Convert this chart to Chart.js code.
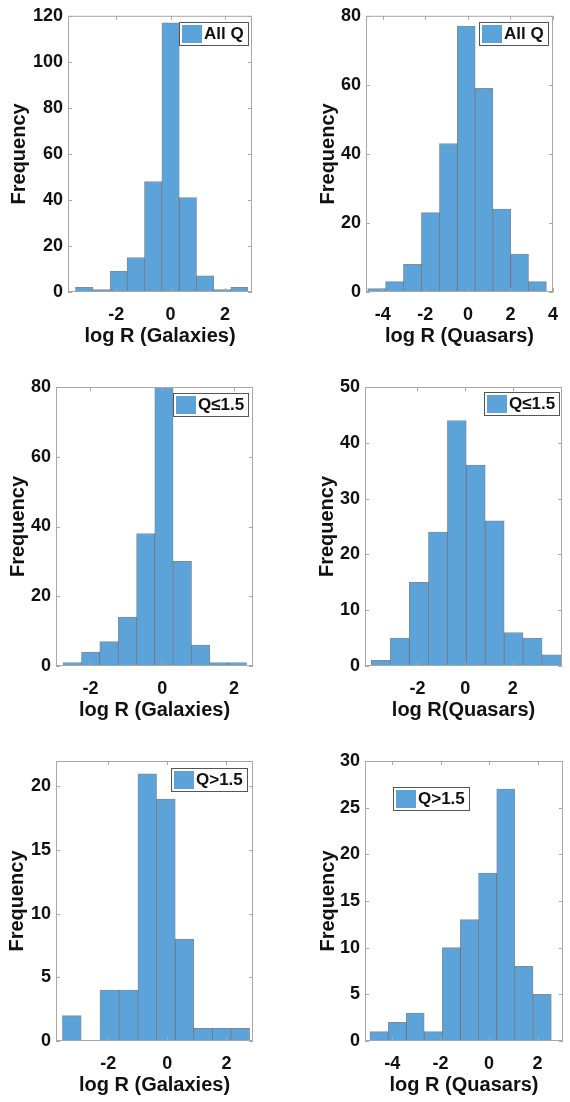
<!DOCTYPE html>
<html>
<head>
<meta charset="utf-8">
<script src="https://cdn.jsdelivr.net/npm/chart.js@4.4.0/dist/chart.umd.min.js"></script>
<style>
  body { margin: 0; background: #fff; }
  #page { position: relative; width: 570px; height: 1102px; }
  #page canvas { position: absolute; }
</style>
</head>
<body>
<div id="page"></div>
<script>
// histogram bin edges + counts
const galAllEdges = [-3.50, -2.85, -2.22, -1.60, -0.96, -0.32, 0.32, 0.95, 1.59, 2.21, 2.84];
const galAllCounts = [2, 1, 9, 15, 48, 117, 41, 7, 1, 2];

const qsoAllEdges = [-4.71, -3.87, -3.03, -2.19, -1.33, -0.50, 0.34, 1.18, 2.01, 2.85, 3.69];
const qsoAllCounts = [1, 3, 8, 23, 43, 77, 59, 24, 11, 3];

const galLowEdges = [-2.76, -2.25, -1.74, -1.23, -0.71, -0.21, 0.30, 0.82, 1.33, 1.84, 2.35];
const galLowCounts = [1, 4, 7, 14, 38, 80, 30, 6, 1, 1];

const qsoLowEdges = [-3.94, -3.15, -2.34, -1.54, -0.74, 0.04, 0.84, 1.64, 2.42, 3.22, 4.03];
const qsoLowCounts = [1, 5, 15, 24, 44, 36, 26, 6, 5, 2];

const galHighEdges = [-3.56, -2.91, -2.29, -1.63, -0.99, -0.37, 0.27, 0.90, 1.52, 2.16, 2.78];
const galHighCounts = [2, 0, 4, 4, 21, 19, 8, 1, 1, 1];

const qsoHighEdges = [-4.92, -4.16, -3.41, -2.68, -1.94, -1.18, -0.44, 0.32, 1.06, 1.81, 2.57];
const qsoHighCounts = [1, 2, 3, 1, 10, 13, 18, 27, 8, 5];

// tick labels
const xTicksNarrow = [-2, 0, 2];
const xTicksWide = [-4, -2, 0, 2, 4];
const xTicksQsoHigh = [-4, -2, 0, 2];
const yTicksGalAll = [0, 20, 40, 60, 80, 100, 120];
const yTicks80 = [0, 20, 40, 60, 80];
const yTicks50 = [0, 10, 20, 30, 40, 50];
const yTicks20 = [0, 5, 10, 15, 20];
const yTicks30 = [0, 5, 10, 15, 20, 25, 30];

const FONT = '"Liberation Sans", Arial, Helvetica, sans-serif';
const BAR = '#5ca3d9';
const BOX = '#a8a8a8';
const XAXIS_H = 60;

Chart.defaults.font.family = FONT;
Chart.defaults.color = '#111';

const rows = [{ y: 0, h: 352 }, { y: 352, h: 375 }, { y: 727, h: 375 }];

// layout per panel: chart area in page pixels, axis limits, legend placement
const panels = [
  { col: 0, row: 0, edges: galAllEdges, counts: galAllCounts, label: 'All Q', xTitle: 'log R (Galaxies)',
    xMin: -3.77, xMax: 2.99, yMax: 120, xTicks: xTicksNarrow, yTicks: yTicksGalAll,
    area: { l: 68, r: 252, t: 11, b: 292 }, yTitleGap: 49, legend: { align: 'right', dx: 4, dy: 6 } },
  { col: 1, row: 0, edges: qsoAllEdges, counts: qsoAllCounts, label: 'All Q', xTitle: 'log R (Quasars)',
    xMin: -4.79, xMax: 4, yMax: 80, xTicks: xTicksWide, yTicks: yTicks80,
    area: { l: 366, r: 564, t: 11, b: 292 }, yTitleGap: 38, legend: { align: 'right', dx: 5, dy: 6 } },
  { col: 0, row: 1, edges: galLowEdges, counts: galLowCounts, label: 'Q\u22641.5', xTitle: 'log R (Galaxies)',
    xMin: -2.96, xMax: 2.53, yMax: 80, xTicks: xTicksNarrow, yTicks: yTicks80,
    area: { l: 56, r: 253, t: 387, b: 666 }, yTitleGap: 38, legend: { align: 'right', dx: 5, dy: 6 } },
  { col: 1, row: 1, edges: qsoLowEdges, counts: qsoLowCounts, label: 'Q\u22641.5', xTitle: 'log R(Quasars)',
    xMin: -4.2, xMax: 4.06, yMax: 50, xTicks: xTicksNarrow, yTicks: yTicks50,
    area: { l: 365, r: 562, t: 387, b: 666 }, yTitleGap: 38, legend: { align: 'right', dx: 3, dy: 5 } },
  { col: 0, row: 2, edges: galHighEdges, counts: galHighCounts, label: 'Q>1.5', xTitle: 'log R (Galaxies)',
    xMin: -3.77, xMax: 2.90, yMax: 22, xTicks: xTicksNarrow, yTicks: yTicks20,
    area: { l: 56, r: 253, t: 761, b: 1041 }, yTitleGap: 39, legend: { align: 'right', dx: 6, dy: 7 } },
  { col: 1, row: 2, edges: qsoHighEdges, counts: qsoHighCounts, label: 'Q>1.5', xTitle: 'log R (Quasars)',
    xMin: -5.12, xMax: 3.05, yMax: 30, xTicks: xTicksQsoHigh, yTicks: yTicks30,
    area: { l: 365, r: 563, t: 761, b: 1041 }, yTitleGap: 37, legend: { align: 'left', dx: 28, dy: 26 } }
];

// axes box with inward ticks on all four sides (matlab style)
const axesBox = {
  id: 'axesBox',
  afterDatasetsDraw(chart) {
    const { ctx, chartArea: a, scales: { x, y } } = chart;
    ctx.save();
    ctx.strokeStyle = BOX;
    ctx.lineWidth = 1;
    ctx.strokeRect(a.left + 0.5, a.top + 0.5, a.right - a.left - 1, a.bottom - a.top - 1);
    ctx.beginPath();
    x.ticks.forEach(t => {
      const px = Math.round(x.getPixelForValue(t.value)) + 0.5;
      ctx.moveTo(px, a.bottom); ctx.lineTo(px, a.bottom - 4);
      ctx.moveTo(px, a.top); ctx.lineTo(px, a.top + 4);
    });
    y.ticks.forEach(t => {
      const py = Math.round(y.getPixelForValue(t.value)) + 0.5;
      ctx.moveTo(a.left, py); ctx.lineTo(a.left + 4, py);
      ctx.moveTo(a.right, py); ctx.lineTo(a.right - 4, py);
    });
    ctx.stroke();
    ctx.restore();
  }
};

// boxed legend inside the axes
const boxLegend = {
  id: 'boxLegend',
  afterDraw(chart, args, opts) {
    const { ctx, chartArea: a } = chart;
    const ds = chart.data.datasets[0];
    ctx.save();
    ctx.font = 'bold 17px ' + FONT;
    const tw = ctx.measureText(ds.label).width;
    const w = Math.round(3 + 20 + 2 + tw + 4), h = 23;
    const x = Math.round(opts.align === 'right' ? a.right - opts.dx - w : a.left + opts.dx);
    const y = Math.round(a.top + opts.dy);
    ctx.fillStyle = '#fff';
    ctx.fillRect(x, y, w, h);
    ctx.strokeStyle = '#555';
    ctx.lineWidth = 1;
    ctx.strokeRect(x + 0.5, y + 0.5, w, h);
    ctx.fillStyle = ds.backgroundColor;
    ctx.fillRect(x + 3, y + 3, 20, h - 5);
    ctx.fillStyle = '#111';
    ctx.textBaseline = 'middle';
    ctx.fillText(ds.label, x + 25, y + h / 2 + 1);
    ctx.restore();
  }
};

const page = document.getElementById('page');

panels.forEach(p => {
  const row = rows[p.row];
  const colX = p.col * 285;
  const cv = document.createElement('canvas');
  cv.width = 285;
  cv.height = row.h;
  cv.style.left = colX + 'px';
  cv.style.top = row.y + 'px';
  page.appendChild(cv);

  const centers = p.counts.map((c, i) => (p.edges[i] + p.edges[i + 1]) / 2);
  const yAxisW = p.area.l - colX;
  const yTitlePad = yAxisW - p.yTitleGap - 12;

  new Chart(cv, {
    type: 'bar',
    data: {
      datasets: [{
        label: p.label,
        data: centers.map((c, i) => ({ x: c, y: p.counts[i] })),
        backgroundColor: BAR,
        borderColor: 'rgba(35,65,95,0.6)',
        borderWidth: ctx => (ctx.raw && ctx.raw.y > 0 ? 1 : 0),
        barThickness: 'flex',
        barPercentage: 1,
        categoryPercentage: 1
      }]
    },
    options: {
      responsive: false,
      animation: false,
      layout: {
        padding: {
          left: 0,
          top: p.area.t - row.y,
          right: colX + 285 - p.area.r,
          bottom: row.y + row.h - p.area.b - XAXIS_H
        }
      },
      plugins: {
        legend: { display: false },
        tooltip: { enabled: false },
        boxLegend: p.legend
      },
      scales: {
        x: {
          type: 'linear',
          offset: false,
          min: p.xMin,
          max: p.xMax,
          grid: { display: false, drawTicks: false, offset: false },
          border: { display: false },
          afterBuildTicks: s => { s.ticks = p.xTicks.map(v => ({ value: v })); },
          afterFit: s => { s.height = XAXIS_H; },
          ticks: { font: { size: 18, weight: 'bold' }, padding: 12, maxRotation: 0, autoSkip: false },
          title: { display: true, text: p.xTitle, font: { size: 20, weight: 'bold' }, padding: { top: 0, bottom: 4 } }
        },
        y: {
          min: 0,
          max: p.yMax,
          grid: { display: false, drawTicks: false },
          border: { display: false },
          afterBuildTicks: s => { s.ticks = p.yTicks.map(v => ({ value: v })); },
          afterFit: s => { s.width = yAxisW; },
          ticks: { font: { size: 18, weight: 'bold' }, padding: 5 },
          title: { display: true, text: 'Frequency', font: { size: 20, weight: 'bold' }, padding: { top: yTitlePad, bottom: 0 } }
        }
      }
    },
    plugins: [axesBox, boxLegend]
  });
});
</script>
</body>
</html>
